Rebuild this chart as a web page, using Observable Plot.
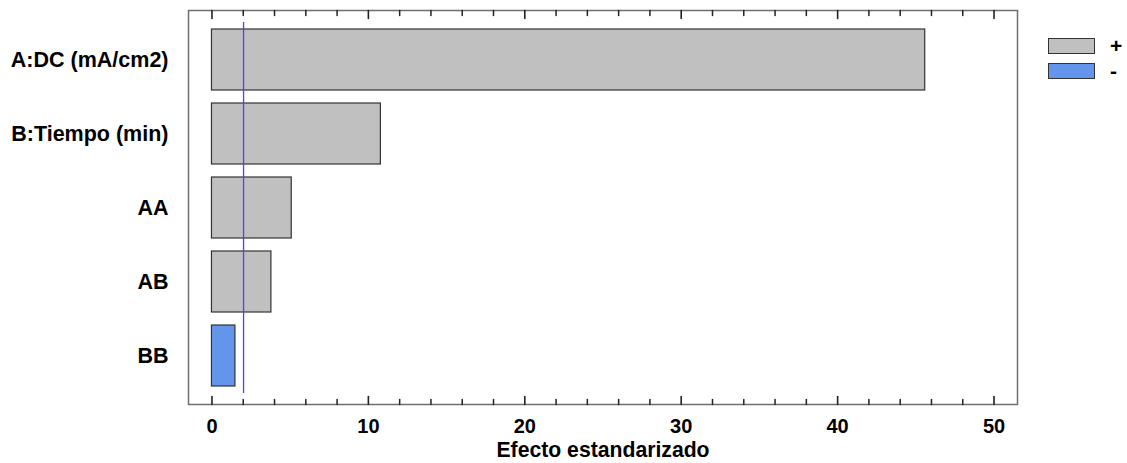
<!DOCTYPE html>
<html>
<head>
<meta charset="utf-8">
<script src="https://cdn.jsdelivr.net/npm/d3@7"></script>
<script src="https://cdn.jsdelivr.net/npm/@observablehq/plot@0.6"></script>
<style>
  html, body { margin: 0; padding: 0; background: #fff; }
  #wrap { position: relative; width: 1127px; height: 463px; font-family: "Liberation Sans", Arial, sans-serif; }
  #legend { position: absolute; left: 1048px; top: 38px; }
  .row { display: flex; align-items: center; height: 16px; margin-bottom: 9px; }
  .sw { width: 45px; height: 14px; border: 1.5px solid #333; box-sizing: content-box; }
  .lab { margin-left: 15px; font-weight: bold; font-size: 21px; color: #000; line-height: 16px; }
</style>
</head>
<body>
<div id="wrap"></div>
<script>
// Data
const terms = ["A:DC (mA/cm2)", "B:Tiempo (min)", "AA", "AB", "BB"];
const effects = [45.6, 10.8, 5.1, 3.8, 1.5];
const signs = ["+", "+", "+", "+", "-"];
const criticalValue = [2.02];
const legendLabels = ["+", "-"];
const legendColors = ["#c0c0c0", "#6495ed"];
const majorTicks = [0, 10, 20, 30, 40, 50];
const minorTicks = [2, 4, 6, 8, 12, 14, 16, 18, 22, 24, 26, 28, 32, 34, 36, 38, 42, 44, 46, 48];
const xLabel = "Efecto estandarizado";

const data = terms.map((t, i) => ({term: t, value: effects[i], sign: signs[i]}));

const W = 1127, H = 463;
const mL = 188, mR = 110, mT = 10, mB = 59;
const frameColor = "#6f6f6f";
const tickColor = "#222222";

const tickShape = {draw(context, l) { context.moveTo(0, 0); context.lineTo(0, -l); }};

const chart = Plot.plot({
  width: W,
  height: H,
  marginLeft: mL,
  marginRight: mR,
  marginTop: mT,
  marginBottom: mB,
  style: {fontFamily: '"Liberation Sans", Arial, sans-serif', color: "#000", background: "#fff"},
  x: {domain: [-1.5, 51.5]},
  y: {domain: terms, padding: 0.18, insetTop: 5, insetBottom: 4},
  color: {domain: legendLabels, range: legendColors},
  marks: [
    Plot.barX(data, {x: "value", y: "term", fill: "sign", stroke: "#333", strokeWidth: 1.2}),
    Plot.ruleX(criticalValue, {stroke: "#4646ff", strokeWidth: 1.3, insetTop: 12, insetBottom: 11}),
    Plot.frame({stroke: frameColor, strokeWidth: 1.5}),
    // major ticks (inward) bottom & top
    Plot.vector(majorTicks, {x: d => d, frameAnchor: "bottom", length: 8, rotate: 0, anchor: "start", shape: tickShape, stroke: tickColor, strokeWidth: 1.6}),
    Plot.vector(majorTicks, {x: d => d, frameAnchor: "top", length: 8, rotate: 180, anchor: "start", shape: tickShape, stroke: tickColor, strokeWidth: 1.6}),
    // minor ticks (inward) bottom & top
    Plot.vector(minorTicks, {x: d => d, frameAnchor: "bottom", length: 5, rotate: 0, anchor: "start", shape: tickShape, stroke: tickColor, strokeWidth: 1.5}),
    Plot.vector(minorTicks, {x: d => d, frameAnchor: "top", length: 5, rotate: 180, anchor: "start", shape: tickShape, stroke: tickColor, strokeWidth: 1.5}),
    // tick labels
    Plot.axisX({anchor: "bottom", ticks: majorTicks, tickSize: 0, tickPadding: 14, fontSize: 20, fontWeight: "bold", fill: "#000", label: null}),
    // axis label
    Plot.axisX({anchor: "bottom", ticks: [], tickSize: 0, fontSize: 21.2, fontWeight: "bold", fill: "#000",
                label: xLabel, labelAnchor: "center", labelArrow: "none", labelOffset: 52}),
    Plot.axisY({anchor: "left", tickSize: 0, tickPadding: 20, fontSize: 21.5, fontWeight: "bold", fill: "#000", label: null})
  ]
});

const wrap = document.getElementById("wrap");
wrap.appendChild(chart);

const legend = document.createElement("div");
legend.id = "legend";
legendLabels.forEach((l, i) => {
  const row = document.createElement("div");
  row.className = "row";
  const sw = document.createElement("div");
  sw.className = "sw";
  sw.style.background = legendColors[i];
  const lab = document.createElement("span");
  lab.className = "lab";
  lab.textContent = l;
  row.appendChild(sw);
  row.appendChild(lab);
  legend.appendChild(row);
});
wrap.appendChild(legend);
</script>
</body>
</html>
